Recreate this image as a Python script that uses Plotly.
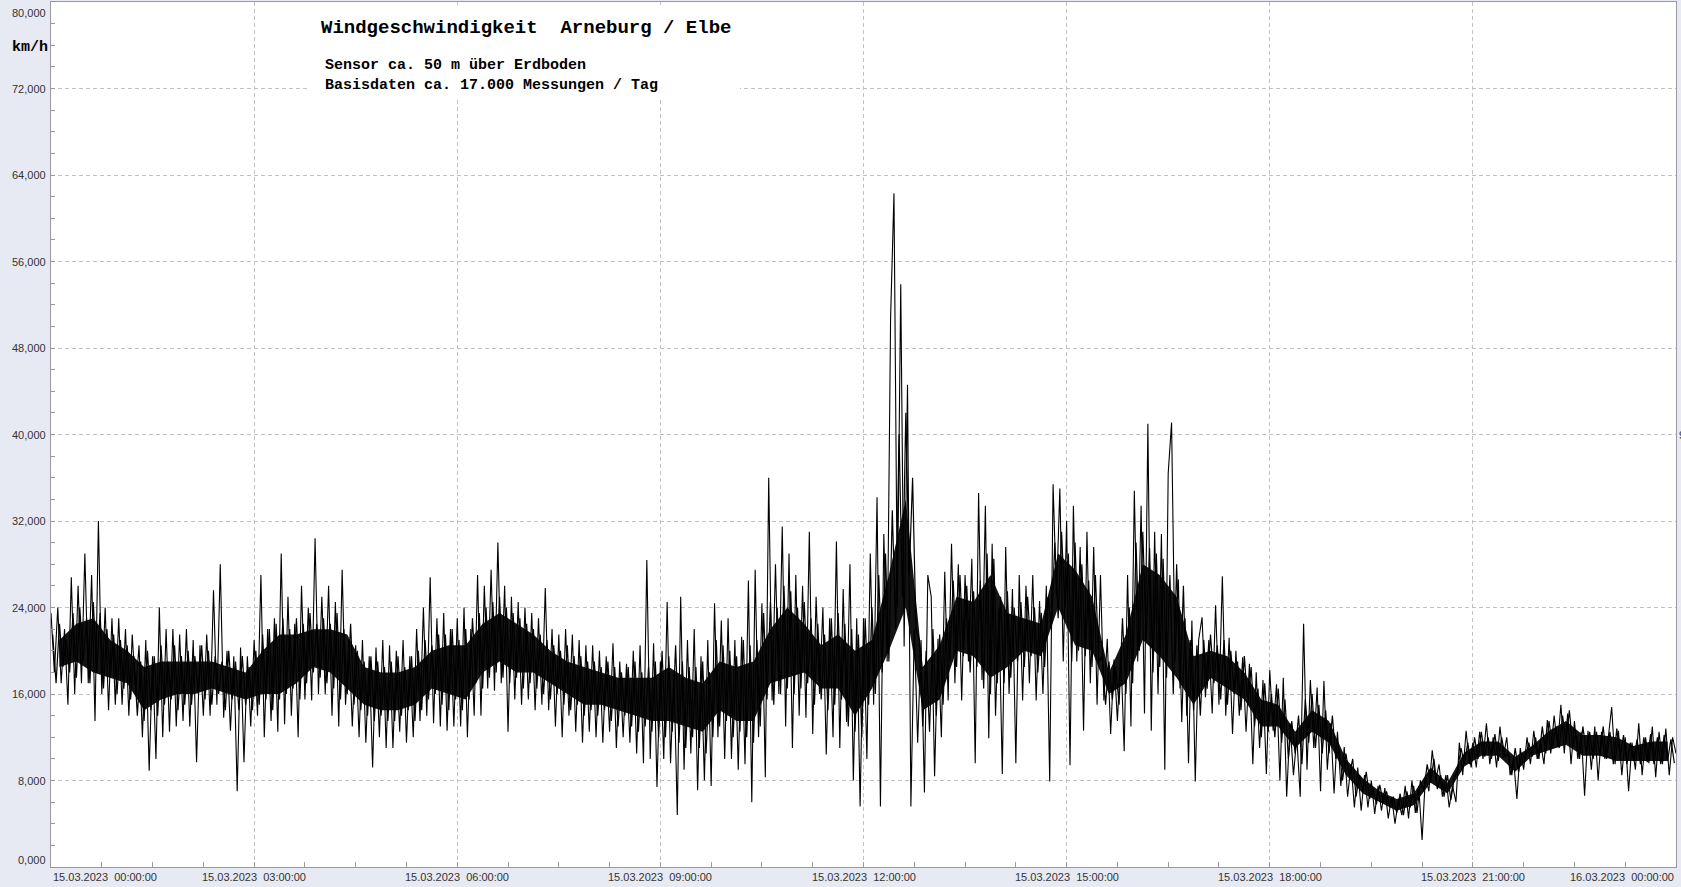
import pandas as pd
import plotly.graph_objects as go

# Wind speed (km/h), 3-minute steps, alternating gust peaks / lulls
h00 = [23.5, 18, 24, 17, 22, 15, 26.8, 16, 26, 17, 29, 17, 27, 13.5, 32, 16, 24, 14.5, 23, 15]
h01 = [23, 15, 22, 14, 21.5, 16, 20.5, 12, 21, 8.9, 19.5, 10, 24, 12, 22, 12.5, 22, 13, 21.5, 13.5]
h02 = [22, 13, 21, 9.7, 20.5, 14, 21.5, 14, 25.6, 15, 28, 13.8, 20, 12.6, 19.5, 7, 20.3, 9.7, 19.5, 13]
h03 = [21, 14, 27, 12, 22, 13.5, 23, 12.5, 29, 13.2, 25, 14, 22.5, 12, 26, 15.5, 24, 15.4, 30.4, 16]
h04 = [25, 16, 26, 14, 24.5, 13, 27.5, 15, 21, 13, 20.5, 12, 21, 11.5, 19.5, 9.2, 20.3, 12, 21, 11]
h05 = [20.5, 11, 20, 12.5, 21, 11.5, 19.5, 12, 22, 13.5, 24, 14, 26.8, 13.3, 23, 13, 23.5, 12.6, 22, 13]
h06 = [23, 13, 24, 12, 22, 14, 27, 14, 26, 16.5, 27.5, 16.3, 30, 17, 26, 12.5, 25, 15.5, 24.5, 15]
h07 = [24, 15.5, 23.5, 14.5, 23, 15, 25.8, 14.5, 22, 13, 21.5, 12, 22, 14, 21.5, 12.5, 21, 11.5, 20.5, 12.5]
h08 = [20.5, 12, 20, 11.5, 19.5, 12.5, 20.7, 11, 19, 12, 18.8, 11.5, 20, 10.5, 20.5, 9.6, 28.4, 10, 20.7, 7.4]
h09 = [19, 10, 24.5, 9.6, 18, 4.8, 25, 9, 21, 10.5, 22, 7.1, 19.5, 8, 21, 7.5, 24.4, 12, 22.8, 10]
h10 = [23, 10, 21, 9, 21.3, 9.5, 26.5, 6, 27.5, 12, 24.4, 8.3, 36, 15.4, 28, 16, 31.5, 13, 29, 11]
h11 = [27, 14, 26, 13.8, 31, 12.3, 25, 16, 24, 10.4, 23, 12, 30.1, 11, 25.7, 13.4, 28, 8, 23, 5.6]
h12 = [23, 10, 29, 15, 34.2, 5.6, 30.8, 19, 50.7, 62.3, 24, 53.9, 20.4, 44.6, 5.6, 22, 11.5, 21, 6.9, 27]
h13 = [25, 8.4, 21.1, 12, 27.3, 15.4, 29.9, 17, 28, 15.4, 27, 19, 28.5, 9.6, 34.6, 17.3, 33.4, 11.9, 29.9, 14]
h14 = [24, 8.6, 29.6, 16, 25.7, 9.6, 27, 15.4, 26, 17, 27, 15.4, 24.6, 16, 26, 7.9, 35.4, 25, 35, 19]
h15 = [32, 9.4, 33.4, 19, 29.6, 12.6, 31, 17, 29.6, 15, 27, 15.4, 21.1, 12.3, 19.2, 13.5, 20, 10.7, 27, 13]
h16 = [34.8, 19, 33.4, 14.2, 41, 12.6, 31, 16, 30.8, 9, 36.4, 41.1, 19, 26.6, 13.4, 23, 9.6, 22.8, 7.9, 21]
h17 = [23.1, 15.7, 21, 14.2, 24.2, 15, 26.9, 14, 21.2, 12.3, 20, 14, 19.4, 12.5, 18.8, 9.5, 18, 11, 17.3, 8.6]
h18 = [18.2, 12.6, 16.9, 8, 17.5, 6.5, 13.3, 8.5, 12, 6.5, 22.5, 9, 17.3, 11, 16.6, 7, 17.2, 9, 13.3, 6.8]
h19 = [12.5, 7.5, 11.1, 6.5, 9.5, 5.5, 9.2, 5.2, 8.5, 5.5, 8, 4.9, 7.5, 5.2, 7.3, 4.5, 6.5, 4, 6.2, 4.8]
h20 = [7.5, 4.5, 8, 5, 7.5, 2.5, 8.5, 7, 10.8, 8, 9.5, 6.5, 8.5, 5.5, 7.5, 6, 11.5, 8.5, 12.6, 9.5]
h21 = [11.5, 9.2, 12.5, 10, 13.3, 9.5, 12, 9.2, 13, 10.1, 12, 8.5, 10, 6.3, 11, 9, 12, 9.5, 12.6, 10]
h22 = [11.5, 9.5, 13.6, 10.5, 14, 11.1, 15, 10.5, 14.2, 9.5, 13.5, 10, 12.5, 6.6, 12.6, 9, 13, 8, 12.5, 10]
h23 = [12, 14.8, 9.5, 12.6, 8.5, 12, 7, 11.5, 9, 13.3, 8.5, 12, 9.6, 13, 8.3, 12.5, 9.5, 12.8, 8.5, 12, 10.5]

# Readings in between (offset 1.5 min), the dense core of the cloud, km/h
b00 = [21.5, 17, 22.5, 18.5, 21, 18, 23.5, 17.5, 24, 19, 23, 17, 24.5, 18, 23.5, 16.5, 22, 17.5, 21.5, 16]
b01 = [21, 16.5, 20.5, 15.5, 19.5, 14, 19, 13.5, 20, 14.5, 19.5, 14, 20.5, 15, 19, 15.5, 20.5, 14.5, 19.5, 15]
b02 = [20, 15, 19.5, 16, 20.5, 15.5, 20, 15, 19.5, 16, 19, 14.5, 20, 15.5, 19, 14.5, 19.5, 15, 18.5, 14.5]
b03 = [20, 15, 21.5, 15.5, 22, 14.5, 22.5, 15.5, 23, 16, 22, 16.5, 23, 15.5, 22.5, 17, 23.5, 18, 22.5, 17.5]
b04 = [23, 17, 22.5, 16.5, 23.5, 15.5, 22, 16, 22.5, 15, 20, 14.5, 19, 14, 19.5, 13.5, 19, 14, 18.5, 13.5]
b05 = [19, 13.5, 19.5, 14, 18.5, 14.5, 19.5, 13.5, 20, 14.5, 21, 15.5, 20.5, 16, 21.5, 15, 21.5, 14.5, 22, 15.5]
b06 = [21, 14.5, 22, 15.5, 23, 17, 23.5, 16.5, 24, 17.5, 24.5, 18, 25, 17.5, 24, 17, 23.5, 17.5, 23, 16.5]
b07 = [22.5, 17, 22, 16.5, 21.5, 16, 21, 15.5, 20.5, 16, 20, 15, 20.5, 14.5, 19.5, 15, 19.5, 14, 19, 14.5]
b08 = [19, 14, 18.5, 14.5, 19, 13.5, 18.5, 13, 18, 14, 18.5, 13, 19, 12.5, 18, 13, 18.5, 12.5, 19, 12]
b09 = [20, 12, 19.5, 12.5, 20.5, 11.5, 19, 11, 18.5, 12, 18.5, 11, 19, 10.5, 18, 12, 21, 13, 20.5, 13.5]
b10 = [20, 12, 19.5, 12.5, 21, 12, 20.5, 11.5, 21, 13, 23.5, 15.5, 24.5, 15, 24, 16, 26, 16.5, 25.5, 16]
b11 = [24, 16.5, 24.5, 17, 23, 15, 22.5, 15.5, 21.5, 14.5, 23, 15, 23.5, 15.5, 22.5, 13, 22, 12.5, 21.5, 12]
b12 = [23, 15, 24, 16, 27, 18, 29, 19, 33, 22, 40, 25, 42, 27, 36, 22, 21, 13, 20, 12.5]
b13 = [22, 14, 21.5, 15, 23, 19, 26.5, 18.5, 27, 19.5, 26, 18, 25.5, 18.5, 26.5, 16.5, 29, 16, 28.5, 17]
b14 = [25, 17, 25.5, 17.5, 24, 19, 24.5, 18.5, 25, 19.5, 24, 18, 23.5, 18.5, 25, 22, 30, 23, 31, 24]
b15 = [29, 19, 30, 20, 28, 19.5, 26.5, 18.5, 27, 19, 19.5, 15, 19, 15.5, 18.5, 15, 23, 16, 24, 17]
b16 = [30, 20, 31, 21, 29.5, 18, 29, 18.5, 28.5, 17.5, 27, 16, 28, 16.5, 26, 14, 21, 14.5, 20.5, 14]
b17 = [21, 16.5, 21.5, 17, 20.5, 15.5, 21, 15, 20, 16, 19, 14.5, 19.5, 15, 18.5, 13, 16.5, 12, 17, 12.5]
b18 = [16, 12, 16.5, 11.5, 15.5, 10, 13.5, 10.5, 14, 9.5, 15.5, 11.5, 16, 11, 15, 10.5, 14.5, 10.5, 14, 10]
b19 = [11, 8, 10.5, 8.5, 10, 6.5, 8.5, 7, 8.8, 6.3, 7.3, 5.8, 7.6, 6, 7, 5.5, 6.5, 5, 6.8, 4.8]
b20 = [7, 5.5, 7.5, 5, 8, 7, 9.5, 7.8, 10, 7.2, 8.5, 6.5, 8.5, 6.2, 8.2, 9, 11, 9.5, 11.5, 9.2]
b21 = [12, 10, 12.5, 10.2, 12, 10, 12.3, 9.8, 12, 10.2, 10.5, 8.5, 11, 8.8, 10.5, 10, 11.5, 10.2, 12, 10]
b22 = [13, 10.5, 13.5, 11, 13, 11, 14, 11.5, 14.5, 11, 12.5, 10, 13, 10.5, 12.5, 10, 12.5, 10.3, 13, 10]
b23 = [12.5, 9.5, 12.8, 10, 12.2, 9.5, 11.5, 9.8, 11.8, 9.5, 12, 9.7, 12.3, 9.5, 12, 9.5, 12.2, 9.8, 11.8, 9.6]

# Darkest part of the cloud per quarter hour (upper / lower edge, km/h)
core_hi = [21, 22.5, 23, 21, 20, 18.5, 19, 19, 19, 19, 18.5, 18, 20, 21.5, 21.5, 22,
           22, 21.5, 18.5, 18, 18, 18.5, 20, 20.5, 20.5, 22.5, 23.5, 22.5, 21.5, 20, 19, 18.5,
           18, 17.5, 17.5, 17.5, 18.5, 17.5, 17, 19, 18.5, 19, 22, 24, 22.5, 20.5, 21.5, 20,
           21, 27, 34, 18.5, 20.5, 25, 24.5, 27, 23.5, 23, 22.5, 29, 27.5, 25, 18, 21.5,
           28, 27, 25, 19.5, 20, 19.5, 18, 15.5, 15, 12.5, 14.5, 13.5, 10, 8.2, 7, 6.3,
           6.8, 9.2, 7.8, 10.6, 11.6, 11.6, 10.2, 11.2, 12.6, 13.5, 12.2, 12.2, 12, 11.2, 11.6, 11.6]
core_lo = [18.5, 19, 18, 17.5, 17, 14.5, 15.5, 16, 16, 16.5, 16, 15.5, 16, 16, 17, 18.5,
           18, 16.5, 15, 14.5, 14.5, 15, 16.5, 16, 15.5, 18, 19, 18, 18, 17, 16, 15,
           15, 14.5, 14, 13.5, 13.5, 13, 12.5, 14.5, 13.5, 13.5, 17, 17.5, 18, 16.5, 16.5, 14,
           16.5, 20, 24, 14.5, 15.5, 20, 19.5, 17.5, 18.5, 20, 19.5, 24, 20.5, 20, 16, 17,
           21, 19.5, 17.5, 15, 17.5, 16.5, 15.5, 13, 13, 11, 12.5, 11.5, 8.5, 6.8, 6, 5.2,
           5.7, 7.8, 6.8, 9.3, 10.3, 10.3, 8.8, 10.3, 10.8, 11.3, 10.3, 10.3, 9.8, 9.8, 9.8, 9.8]

y_ticks = [0, 8, 16, 24, 32, 40, 48, 56, 64, 72, 80]
x_ticks = ["2023-03-15 00:00", "2023-03-15 03:00", "2023-03-15 06:00", "2023-03-15 09:00",
           "2023-03-15 12:00", "2023-03-15 15:00", "2023-03-15 18:00", "2023-03-15 21:00",
           "2023-03-16 00:00"]
x_tick_labels = ["15.03.2023\u00a0\u00a000:00:00", "15.03.2023\u00a0\u00a003:00:00",
                 "15.03.2023\u00a0\u00a006:00:00", "15.03.2023\u00a0\u00a009:00:00",
                 "15.03.2023\u00a0\u00a012:00:00", "15.03.2023\u00a0\u00a015:00:00",
                 "15.03.2023\u00a0\u00a018:00:00", "15.03.2023\u00a0\u00a021:00:00",
                 "16.03.2023\u00a0\u00a000:00:00"]

values = (h00 + h01 + h02 + h03 + h04 + h05 + h06 + h07 + h08 + h09 + h10 + h11 +
          h12 + h13 + h14 + h15 + h16 + h17 + h18 + h19 + h20 + h21 + h22 + h23)
inner = (b00 + b01 + b02 + b03 + b04 + b05 + b06 + b07 + b08 + b09 + b10 + b11 +
         b12 + b13 + b14 + b15 + b16 + b17 + b18 + b19 + b20 + b21 + b22 + b23)
times = pd.date_range("2023-03-15 00:00", periods=len(values), freq="3min")
inner_times = pd.date_range("2023-03-15 00:01:30", periods=len(inner), freq="3min")
core_times = pd.date_range("2023-03-15 00:07:30", periods=len(core_hi), freq="15min")

fig = go.Figure()
fig.add_trace(go.Scatter(x=core_times, y=core_lo, mode="lines",
                         line=dict(color="rgba(0,0,0,0)", width=0), showlegend=False,
                         hoverinfo="skip"))
fig.add_trace(go.Scatter(x=core_times, y=core_hi, mode="lines", fill="tonexty",
                         fillcolor="#141414", line=dict(color="rgba(0,0,0,0)", width=0),
                         showlegend=False, hoverinfo="skip"))
fig.add_trace(go.Scatter(x=inner_times, y=inner, mode="lines",
                         line=dict(color="#000000", width=1.2), showlegend=False,
                         hoverinfo="skip"))
fig.add_trace(go.Scatter(x=times, y=values, mode="lines",
                         line=dict(color="#000000", width=1.1), showlegend=False,
                         hoverinfo="skip"))

grid_col = "#c2c2c2"
fig.update_xaxes(type="date", range=[x_ticks[0], x_ticks[-1]],
                 tick0=x_ticks[0], dtick=3 * 3600 * 1000,
                 showgrid=True, gridcolor=grid_col, griddash="4px,3px", gridwidth=1,
                 showticklabels=False, ticks="inside", ticklen=5, tickcolor="#9a9a9a",
                 minor=dict(dtick=45 * 60 * 1000, ticks="inside", ticklen=5,
                            tickcolor="#9a9a9a", showgrid=False),
                 showline=True, linecolor="#9a9a9a", linewidth=1, mirror=True,
                 zeroline=False, fixedrange=True)
fig.update_yaxes(range=[0, 80], tick0=0, dtick=8,
                 showgrid=True, gridcolor=grid_col, griddash="4px,3px", gridwidth=1,
                 showticklabels=False, ticks="inside", ticklen=4, tickcolor="#9a9a9a",
                 minor=dict(dtick=2, ticks="inside", ticklen=4, tickcolor="#9a9a9a",
                            showgrid=False),
                 showline=True, linecolor="#9a9a9a", linewidth=1, mirror=True,
                 zeroline=False, fixedrange=True)

annotations = []
lab_font = dict(family="Liberation Sans, Arial, sans-serif", size=11, color="#333333")
for v in y_ticks:
    shift = 0
    if v == 80:
        shift = -11
    elif v == 0:
        shift = 7
    annotations.append(dict(xref="paper", yref="y", x=0, y=v, xanchor="right",
                            yanchor="middle", xshift=-3, yshift=shift, showarrow=False,
                            text=f"{v:.3f}".replace(".", ","), font=lab_font))
for i, (t, lab) in enumerate(zip(x_ticks, x_tick_labels)):
    anchor = "center"
    if i == 0:
        anchor = "left"
    elif i == len(x_ticks) - 1:
        anchor = "right"
    annotations.append(dict(xref="x", yref="paper", x=t, y=0, xanchor=anchor,
                            yanchor="middle", yshift=-10, showarrow=False,
                            text=lab, font=lab_font))

mono = "Liberation Mono, Courier New, monospace"
annotations.append(dict(xref="paper", yref="paper", x=(319 - 51) / 1625, y=(867 - 28) / 865,
                        xanchor="left", yanchor="middle", showarrow=False,
                        text="<b>Windgeschwindigkeit\u00a0\u00a0Arneburg / Elbe</b>",
                        font=dict(family=mono, size=19, color="#000000")))
annotations.append(dict(xref="paper", yref="paper", x=(323 - 51) / 1625, y=(867 - 65) / 865,
                        xanchor="left", yanchor="middle", showarrow=False,
                        text="<b>Sensor ca. 50 m über Erdboden</b>",
                        font=dict(family=mono, size=15, color="#000000")))
annotations.append(dict(xref="paper", yref="paper", x=(323 - 51) / 1625, y=(867 - 86) / 865,
                        xanchor="left", yanchor="middle", showarrow=False,
                        text="<b>Basisdaten ca. 17.000 Messungen / Tag</b>",
                        font=dict(family=mono, size=15, color="#000000")))
annotations.append(dict(xref="paper", yref="paper", x=(10 - 51) / 1625, y=(867 - 47) / 865,
                        xanchor="left", yanchor="middle", showarrow=False,
                        text="<b>km/h</b>",
                        font=dict(family=mono, size=15, color="#000000")))
annotations.append(dict(xref="paper", yref="y", x=1, y=40, xanchor="left",
                        yanchor="middle", xshift=1, showarrow=False, text="9",
                        font=lab_font))

fig.update_layout(
    width=1681, height=887,
    margin=dict(l=51, r=5, t=2, b=20, pad=0),
    paper_bgcolor="#e7eaf2", plot_bgcolor="#ffffff",
    annotations=annotations,
    shapes=[dict(type="rect", xref="paper", yref="paper",
                 x0=(310 - 51) / 1625, x1=(740 - 51) / 1625,
                 y0=(867 - 100) / 865, y1=(867 - 5) / 865,
                 fillcolor="#ffffff", line=dict(width=0), layer="above")],
)

fig.write_html("out.html", config={"displayModeBar": False},
               post_script="document.body.style.margin='0px';"
                           "document.body.style.overflow='hidden';")
